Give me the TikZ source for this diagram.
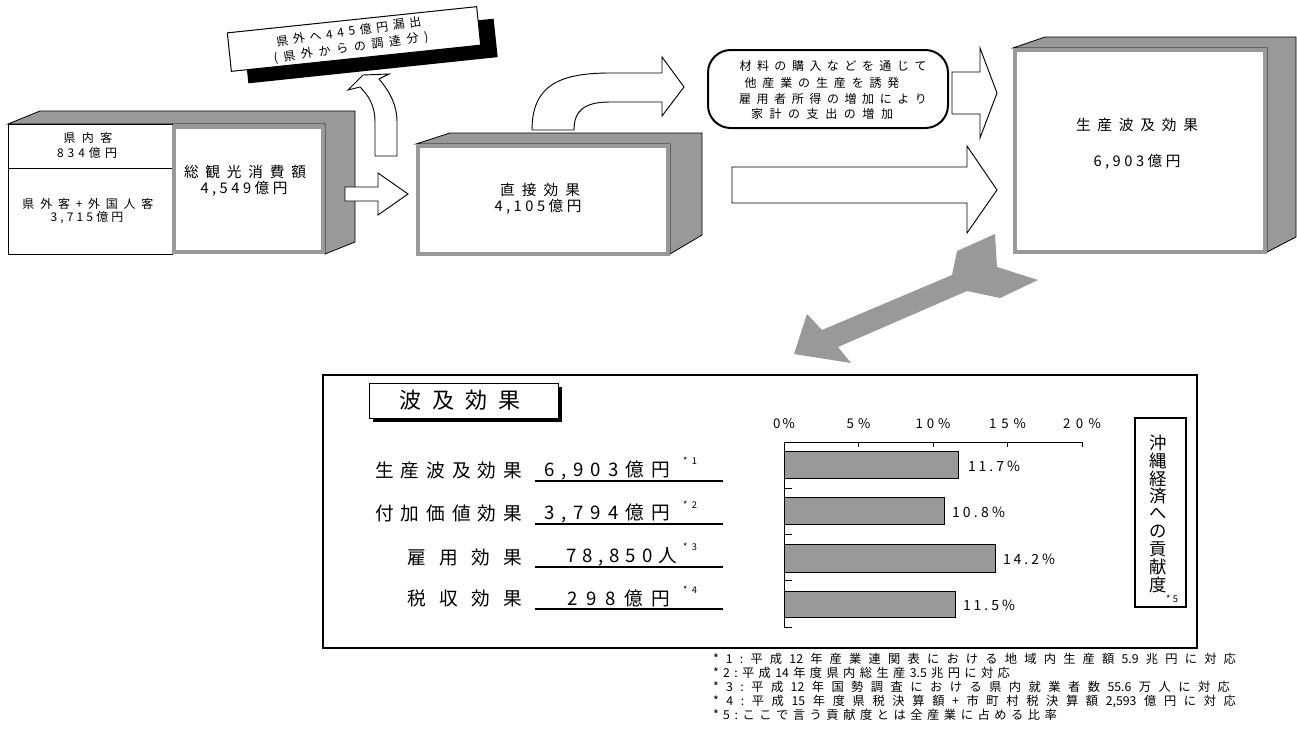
\documentclass[tikz,border=0pt]{standalone}
\usepackage{fontspec}
\setmainfont{Noto Sans CJK JP}
\newdimen\px \px=0.75pt
\makeatletter
\newcommand\sprd[2]{\makebox[#1][s]{\def\sprd@sep{}\@tfor\sprd@ch:=#2\do{\sprd@sep\sprd@ch\def\sprd@sep{\hfil}}}}
\makeatother
\definecolor{boxgray}{HTML}{999999}
\tikzset{
  face/.style={fill=boxgray,draw=black,line width=0.6pt,line join=miter},
  frontg/.style={fill=white,draw=boxgray,line width=3pt},
  blk/.style={fill=white,draw=black,line width=0.7pt,line join=miter},
  bar/.style={fill=boxgray,draw=black,line width=0.7pt},
  fa/.style={font=\fontsize{9pt}{10pt}\selectfont},
  fl/.style={font=\fontsize{9pt}{12pt}\selectfont},
  fb/.style={font=\fontsize{11pt}{12pt}\selectfont},
  fr/.style={font=\fontsize{9pt}{10pt}\selectfont},
  fh/.style={font=\fontsize{16.5pt}{18pt}\selectfont},
  frow/.style={font=\fontsize{14pt}{15pt}\selectfont},
  fsup/.style={font=\fontsize{7pt}{8pt}\selectfont},
  fax/.style={font=\fontsize{10pt}{11pt}\selectfont},
  fval/.style={font=\fontsize{10.5pt}{11pt}\selectfont},
  fv/.style={font=\fontsize{13pt}{14pt}\selectfont},
  ff/.style={font=\fontsize{9.2pt}{10pt}\selectfont},
}
\begin{document}
\begin{tikzpicture}[x=0.75pt,y=-0.75pt,every node/.style={inner sep=0pt,outer sep=0pt}]
\useasboundingbox (0,0) rectangle (1297,732);
\fill[white] (0,0) rectangle (1297,732);

% ---------- Box 1 ----------
\draw[face] (8,124) -- (40,111) -- (355,111) -- (355,242) -- (325,254) -- (325,124) -- cycle;
\draw[fill=white,draw=black,line width=0.75pt] (8,124) rectangle (172,254);
\draw[line width=0.75pt] (8,168) -- (172,168);
\draw[frontg] (174,127) rectangle (323,252);
\node[fa] (b1a) at (88,138) {\sprd{49\px}{県内客}};
\node[fa] (b1b) at (87,153) {\sprd{60\px}{834億円}};
\node[fa] (b1c) at (88,204) {\sprd{131\px}{県外客+外国人客}};
\node[fa] (b1d) at (87,218) {\sprd{73\px}{3,715億円}};
\node[fb] (b1e) at (245,172) {\sprd{122\px}{総観光消費額}};
\node[fb] (b1f) at (244,189) {\sprd{87\px}{4,549億円}};

% arrow box1 -> box2
\draw[blk] (345,187) -- (378,187) -- (378,173) -- (408,194) -- (378,215) -- (378,201) -- (345,201) -- cycle;

% up arrow to leak box
\draw[blk] (375,156) -- (375,122) .. controls (375,105) and (368,95) .. (360,87) -- (348,90) -- (363,75) -- (389,74) -- (379,79) .. controls (390,92) and (397,105) .. (397,122) -- (397,156) -- cycle;

% leak box
\node[fill=black,minimum width=188pt,minimum height=29pt,rotate=6] (leaksh) at (371,51) {};
\node[draw,fill=white,line width=0.75pt,minimum width=188pt,minimum height=29pt,rotate=6] (leak) at (354,39) {};
\node[fl,rotate=8,align=center] (lk) at (350,40) {\sprd{146\px}{県外へ445億円漏出}\\\sprd{156\px}{(県外からの調達分)}};

% ---------- Box 2 ----------
\draw[face] (416,144) -- (450,133) -- (702,133) -- (702,235) -- (670,254) -- (670,144) -- cycle;
\draw[frontg] (418,146) rectangle (668,254);
\node[fb] (b2a) at (540,190) {\sprd{80\px}{直接効果}};
\node[fb] (b2b) at (538,207) {\sprd{87\px}{4,105億円}};

% curved arrow
\draw[blk] (532,130) .. controls (532,85) and (560,73) .. (610,73) -- (662,73) -- (662,57) -- (684,87) -- (662,116) -- (662,102) -- (610,102) .. controls (585,102) and (574,110) .. (574,130) -- cycle;

% rounded box
\node[draw,line width=1.5pt,rounded corners=17pt,minimum width=180pt,minimum height=58.5pt] (rbox) at (828,89) {};
\node[fr] (r1) at (833,66) {\sprd{187\px}{材料の購入などを通じて}};
\node[fr] (r2) at (822,83) {\sprd{155\px}{他産業の生産を誘発}};
\node[fr] (r3) at (833,99) {\sprd{188\px}{雇用者所得の増加により}};
\node[fr] (r4) at (822,114) {\sprd{142\px}{家計の支出の増加}};

% right arrows
\draw[blk] (952,72) -- (980,72) -- (980,48) -- (997,93) -- (980,138) -- (980,114) -- (952,114) -- cycle;
\draw[blk] (732,167) -- (967,167) -- (967,146) -- (997,190) -- (967,233) -- (967,203) -- (732,203) -- cycle;

% ---------- Box 3 ----------
\draw[face] (1013,48) -- (1045,37) -- (1296,37) -- (1296,237) -- (1267,252) -- (1267,48) -- cycle;
\draw[frontg] (1015,50) rectangle (1265,252);
\node[fb] (b3a) at (1137,125) {\sprd{122\px}{生産波及効果}};
\node[fb] (b3b) at (1137,162) {\sprd{87\px}{6,903億円}};

% big gray arrow
\fill[boxgray] (794,354) -- (807,314) -- (822,330) -- (952,275) -- (957,251) -- (995,234) -- (997,267) -- (1038,280) -- (1000,298) -- (967,291) -- (838,347) -- (851,363) -- cycle;

% ---------- lower panel ----------
\draw[line width=1.1pt] (323,375) rectangle (1197,648);
\fill[black] (373,387) rectangle (562,422);
\draw[fill=white,line width=0.75pt] (369,383) rectangle (558,418);
\node[fh] (hd) at (460,400) {\sprd{122\px}{波及効果}};

\node[frow,anchor=east] (l1) at (522,470) {\sprd{147\px}{生産波及効果}};
\node[frow,anchor=east] (l2) at (522,513) {\sprd{147\px}{付加価値効果}};
\node[frow,anchor=east] (l3) at (522,557) {\sprd{115\px}{雇用効果}};
\node[frow,anchor=east] (l4) at (522,598) {\sprd{115\px}{税収効果}};

\node[frow] (v1) at (607,470) {\sprd{126\px}{6,903億円}};
\node[frow] (v2) at (607,513) {\sprd{126\px}{3,794億円}};
\node[frow] (v3) at (621.5,557) {\sprd{111\px}{78,850人}};
\node[frow] (v4) at (618.5,598) {\sprd{103\px}{298億円}};

\node[fsup] (s1) at (690,461) {\sprd{14\px}{*1}};
\node[fsup] (s2) at (690,505) {\sprd{14\px}{*2}};
\node[fsup] (s3) at (690,547) {\sprd{14\px}{*3}};
\node[fsup] (s4) at (690,590) {\sprd{14\px}{*4}};

\foreach \yy in {481,524,567,609} \draw[line width=1.1pt] (535,\yy) -- (723,\yy);

% chart
\draw[line width=0.75pt] (784,442) -- (1082,442);
\foreach \k in {1,...,4} \draw[line width=0.75pt] ({784+\k*74.5},442) -- ({784+\k*74.5},447);
\draw[line width=0.75pt] (784,442) -- (784,627);
\foreach \yy in {488.25,534.5,580.75,627} \draw[line width=0.75pt] (784,\yy) -- (792,\yy);

\node[fax] (ax0) at (784,424) {\sprd{22\px}{0\%}};
\node[fax] (ax5) at (858.5,424) {\sprd{24\px}{5\%}};
\node[fax] (ax10) at (933,424) {\sprd{35\px}{10\%}};
\node[fax] (ax15) at (1007.5,424) {\sprd{37\px}{15\%}};
\node[fax] (ax20) at (1082,424) {\sprd{38\px}{20\%}};

\draw[bar] (784,451) rectangle (958.3,478);
\draw[bar] (784,497) rectangle (944.9,524);
\draw[bar] (784,544) rectangle (995.6,572);
\draw[bar] (784,591) rectangle (955.4,617);

\node[fval,anchor=west] (p1) at (968,466) {\sprd{52\px}{11.7\%}};
\node[fval,anchor=west] (p2) at (952,512) {\sprd{53\px}{10.8\%}};
\node[fval,anchor=west] (p3) at (1003,559) {\sprd{52\px}{14.2\%}};
\node[fval,anchor=west] (p4) at (963,605) {\sprd{52\px}{11.5\%}};

\draw[line width=1.5pt] (1135,418) rectangle (1186,607);
\foreach \c [count=\i from 0] in {沖,縄,経,済,へ,の,貢,献,度}
  \node[fv] (vc\i) at (1158,{443+\i*17.75}) {\c};
\node[fsup] (s5) at (1172,599) {\sprd{12\px}{*5}};

% footnotes
\node[ff,anchor=west] (f1) at (713,659) {\sprd{523\px}{*1:平成{12}年産業連関表における地域内生産額{5.9}兆円に対応}};
\node[ff,anchor=west] (f2) at (713,673) {\sprd{297\px}{*2:平成{14}年度県内総生産{3.5}兆円に対応}};
\node[ff,anchor=west] (f3) at (713,687) {\sprd{517\px}{*3:平成{12}年国勢調査における県内就業者数{55.6}万人に対応}};
\node[ff,anchor=west] (f4) at (713,701) {\sprd{523\px}{*4:平成{15}年度県税決算額+市町村税決算額{2,593}億円に対応}};
\node[ff,anchor=west] (f5) at (713,715) {\sprd{344\px}{*5:ここで言う貢献度とは全産業に占める比率}};
\end{tikzpicture}
\end{document}
